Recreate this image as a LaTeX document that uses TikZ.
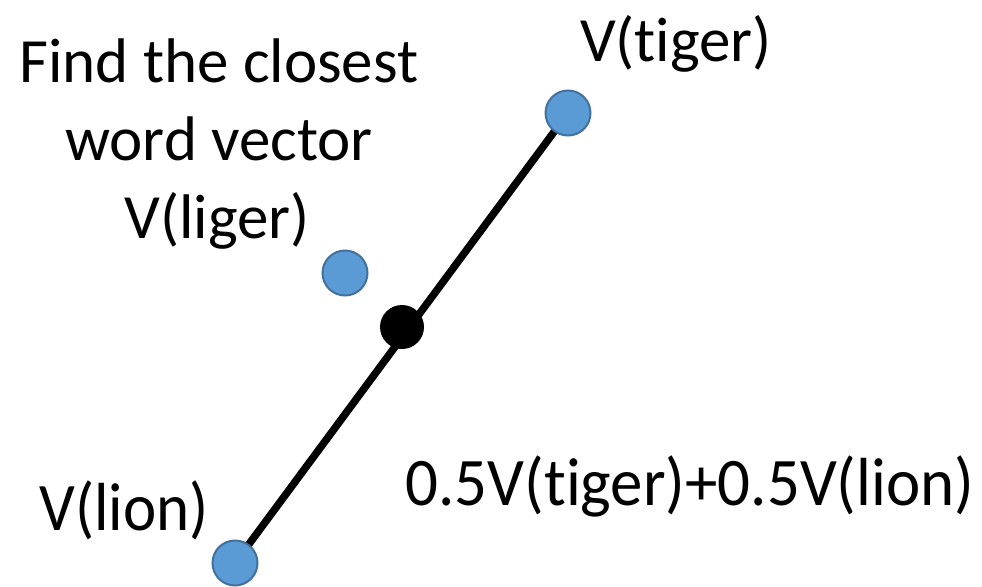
\documentclass[tikz,border=0pt]{standalone}
\usepackage{fontspec}
\setmainfont[RawFeature={-liga;-clig;-calt;-dlig}]{Carlito}
\newcommand\brk{\kern0pt }
\definecolor{dotfill}{HTML}{5B9BD5}
\definecolor{dotedge}{HTML}{41719C}
\begin{document}
\begin{tikzpicture}[x=1pt,y=-1pt,
  worddot/.style={circle,fill=dotfill,draw=dotedge,line width=2pt,minimum size=45pt,inner sep=0pt},
  middot/.style={circle,fill=black,minimum size=44pt,inner sep=0pt},
  lbl/.style={font=\fontsize{63}{78}\selectfont,inner sep=0pt,anchor=base}]
\useasboundingbox (0,0) rectangle (982,586);
\coordinate (tigerc) at (568,113);
\coordinate (lionc) at (235,563);
\draw[line width=7.5pt] (lionc) -- (tigerc);
\node[middot] (mid) at (402,327) {};
\node[worddot] (tiger) at (tigerc) {};
\node[worddot] (lion) at (lionc) {};
\node[worddot] (liger) at (345,273) {};
\node[lbl] (t1) at (219,82) {Find the closest};
\node[lbl] (t2) at (219,160) {word vector};
\node[lbl] (t3) at (217,238) {V(liger)};
\node[lbl] (tt) at (676,62) {V(t\brk iger)};
\node[lbl,yscale=1.08] (tl) at (124,530) {V(lion)};
\node[lbl,xscale=1.03,yscale=1.08] (tm) at (690,505) {0.5V(t\brk iger)+0.5V(lion)};
\end{tikzpicture}
\end{document}
